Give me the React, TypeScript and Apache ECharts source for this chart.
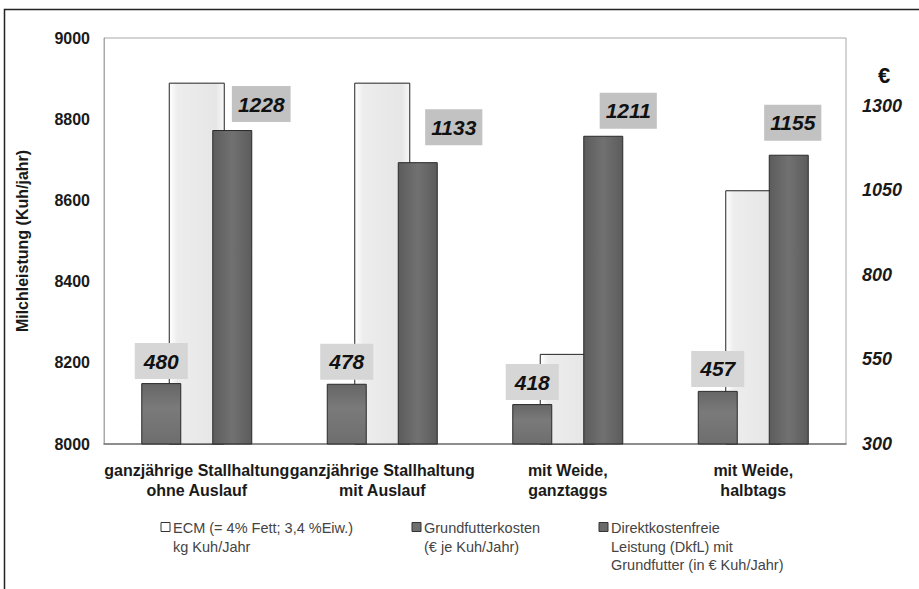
import React, { useEffect, useRef } from "react";
import * as echarts from "echarts";

const categories = [
  "ganzjährige Stallhaltung\nohne Auslauf",
  "ganzjährige Stallhaltung\nmit Auslauf",
  "mit Weide,\nganztaggs",
  "mit Weide,\nhalbtags",
];
const ecmValues = [8890, 8890, 8222, 8625];
const grundfutterValues = [480, 478, 418, 457];
const dkflValues = [1228, 1133, 1211, 1155];

const seriesNames = [
  "ECM (= 4% Fett; 3,4 %Eiw.)\nkg Kuh/Jahr",
  "Grundfutterkosten\n(€ je Kuh/Jahr)",
  "Direktkostenfreie\nLeistung (DkfL) mit\nGrundfutter (in € Kuh/Jahr)",
];

const leftMin = 8000;
const leftMax = 9000;
const leftInterval = 200;
const rightMin = 300;
const rightMax = 1500;
const rightInterval = 250;

// label nudges for the DkfL value boxes (layout only)
const dkflLabelOffsets = [
  [29, -4],
  [36, -13],
  [25, -3],
  [4, -10],
];

const FONT = "'Liberation Sans', Arial, Helvetica, sans-serif";

export default function App() {
  const ref = useRef<HTMLDivElement>(null);

  useEffect(() => {
    if (!ref.current) return;
    const chart = echarts.init(ref.current, undefined, { renderer: "svg" });

    const labelBase = {
      show: true,
      position: "top",
      distance: 4,
      fontFamily: FONT,
      fontSize: 21,
      fontWeight: "bold",
      fontStyle: "italic",
      color: "#111",
      lineHeight: 22,
    };

    const legendX = [161, 412, 599];
    const legendFill = ["#ffffff", "#6f6f6f", "#6a6a6a"];
    const legendGraphics: any[] = [];
    seriesNames.forEach((name, i) => {
      legendGraphics.push({
        type: "rect",
        shape: { x: legendX[i], y: 522.5, width: 9, height: 9 },
        style: { fill: legendFill[i], stroke: "#333", lineWidth: 1 },
        silent: true,
      });
      legendGraphics.push({
        type: "text",
        x: legendX[i] + 12,
        y: 519,
        style: {
          text: name,
          font: `14.5px ${FONT}`,
          fill: "#444",
          lineHeight: 18.5,
          textAlign: "left",
          textVerticalAlign: "top",
        },
        silent: true,
      });
    });

    const option: any = {
      animation: false,
      backgroundColor: "#ffffff",
      textStyle: { fontFamily: FONT },
      grid: {
        left: 104,
        top: 38,
        right: 73,
        bottom: 145,
        show: true,
        borderColor: "#a8a8a8",
        borderWidth: 1,
        backgroundColor: "transparent",
      },
      xAxis: [
        {
          type: "category",
          data: categories,
          position: "bottom",
          axisLine: { show: true, lineStyle: { color: "#777", width: 1.5 } },
          axisTick: { show: false },
          axisLabel: {
            interval: 0,
            margin: 16,
            fontFamily: FONT,
            fontSize: 16,
            fontWeight: "bold",
            color: "#1a1a1a",
            lineHeight: 20,
          },
          splitLine: { show: false },
        },
        {
          type: "category",
          data: categories,
          position: "bottom",
          show: false,
        },
      ],
      yAxis: [
        {
          type: "value",
          min: leftMin,
          max: leftMax,
          interval: leftInterval,
          position: "left",
          name: "Milchleistung (Kuh/jahr)",
          nameLocation: "middle",
          nameGap: 74,
          nameTextStyle: {
            fontFamily: FONT,
            fontSize: 16,
            fontWeight: "bold",
            color: "#1a1a1a",
          },
          axisLine: { show: true, lineStyle: { color: "#a8a8a8" } },
          axisTick: { show: false },
          splitLine: { show: false },
          axisLabel: {
            margin: 14,
            fontFamily: FONT,
            fontSize: 16,
            fontWeight: "bold",
            color: "#1a1a1a",
            formatter: (v: number) => String(v),
          },
        },
        {
          type: "value",
          min: rightMin,
          max: rightMax,
          interval: rightInterval,
          position: "right",
          axisLine: { show: false },
          axisTick: { show: false },
          splitLine: { show: false },
          axisLabel: {
            margin: 16,
            fontFamily: FONT,
            fontSize: 18,
            fontWeight: "bold",
            fontStyle: "italic",
            color: "#1a1a1a",
            formatter: (v: number) => (v === rightMax ? "" : String(v)),
          },
        },
      ],
      series: [
        {
          name: seriesNames[0],
          type: "bar",
          xAxisIndex: 1,
          yAxisIndex: 0,
          z: 2,
          barWidth: 56,
          data: ecmValues,
          itemStyle: {
            color: {
              type: "linear",
              x: 0,
              y: 0,
              x2: 1,
              y2: 0,
              colorStops: [
                { offset: 0, color: "#ffffff" },
                { offset: 0.15, color: "#ededed" },
                { offset: 0.85, color: "#e6e6e6" },
                { offset: 1, color: "#f8f8f8" },
              ],
            },
            borderColor: "#222",
            borderWidth: 1,
          },
        },
        {
          name: seriesNames[1],
          type: "bar",
          xAxisIndex: 0,
          yAxisIndex: 1,
          z: 3,
          barWidth: 40,
          barGap: "77.5%",
          data: grundfutterValues,
          itemStyle: {
            color: {
              type: "linear",
              x: 0,
              y: 0,
              x2: 0,
              y2: 1,
              colorStops: [
                { offset: 0, color: "#666666" },
                { offset: 0.4, color: "#7a7a7a" },
                { offset: 1, color: "#6e6e6e" },
              ],
            },
            borderColor: "#2a2a2a",
            borderWidth: 1,
          },
          label: {
            ...labelBase,
            backgroundColor: "#d6d6d6",
            padding: [7, 9],
          },
        },
        {
          name: seriesNames[2],
          type: "bar",
          xAxisIndex: 0,
          yAxisIndex: 1,
          z: 3,
          barWidth: 40,
          barGap: "77.5%",
          data: dkflValues.map((v, i) => ({
            value: v,
            label: { offset: dkflLabelOffsets[i] },
          })),
          itemStyle: {
            color: {
              type: "linear",
              x: 0,
              y: 0,
              x2: 1,
              y2: 0,
              colorStops: [
                { offset: 0, color: "#5c5c5c" },
                { offset: 0.5, color: "#717171" },
                { offset: 1, color: "#5c5c5c" },
              ],
            },
            borderColor: "#2a2a2a",
            borderWidth: 1,
          },
          label: {
            ...labelBase,
            backgroundColor: "#c2c2c2",
            padding: [7, 6],
          },
        },
      ],
      graphic: [
        {
          type: "rect",
          shape: { x: 4.5, y: 9.5, width: 1000, height: 1000 },
          style: { fill: "none", stroke: "#222", lineWidth: 1.5 },
          silent: true,
          z: 0,
        },
        {
          type: "text",
          x: 884,
          y: 75,
          style: {
            text: "€",
            font: `bold 22px ${FONT}`,
            fill: "#111",
            textAlign: "center",
            textVerticalAlign: "middle",
          },
          silent: true,
        },
        ...legendGraphics,
      ],
    };

    chart.setOption(option);
    return () => chart.dispose();
  }, []);

  return (
    <div
      ref={ref}
      style={{ position: "fixed", left: 0, top: 0, width: 919, height: 589 }}
    />
  );
}
